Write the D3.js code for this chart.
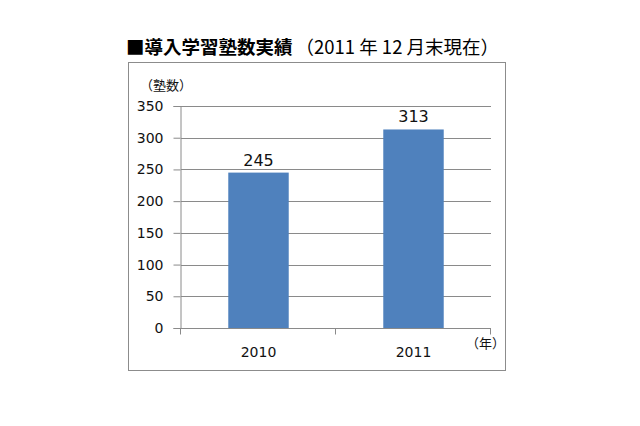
<!DOCTYPE html>
<html>
<head>
<meta charset="utf-8">
<script src="https://cdn.jsdelivr.net/npm/d3@7"></script>
<style>
  body { margin: 0; background: #fff; }
  text { font-family: "Noto Sans CJK JP", "Noto Sans", sans-serif; }
  .num { font-family: "DejaVu Sans", sans-serif; }
</style>
</head>
<body>
<div id="chart"></div>
<script>
// Introduced juku count, by year (end of December)
const years = ['2010', '2011'];
const jukuCounts = [245, 313];
const yTicks = [0, 50, 100, 150, 200, 250, 300, 350];

const width = 640, height = 426;
const plot = { left: 181, right: 491, top: 106, bottom: 328 };

const svg = d3.select('#chart').append('svg')
  .attr('width', width).attr('height', height);

// Title: bold gothic part, then plain part
const title = svg.append('text').attr('x', 126).attr('y', 54).style('font-size', '18.5px');
title.append('tspan').attr('font-weight', 'bold').text('■導入学習塾数実績');
title.append('tspan').attr('font-weight', 'normal').attr('dx', 3).text('（2011 年 12 月末現在）');

// Chart frame
svg.append('rect')
  .attr('x', 128.5).attr('y', 62.5).attr('width', 377).attr('height', 308)
  .attr('fill', 'none').attr('stroke', '#8c8c8c').attr('stroke-width', 1);

const x = d3.scaleBand().domain(years).range([plot.left, plot.right]).padding(0);
const y = d3.scaleLinear().domain([0, 350]).range([plot.bottom, plot.top]);

// Gridlines
svg.append('g').selectAll('line')
  .data(yTicks.filter(d => d > 0))
  .enter().append('line')
  .attr('x1', plot.left).attr('x2', plot.right)
  .attr('y1', d => Math.round(y(d)) + 0.5).attr('y2', d => Math.round(y(d)) + 0.5)
  .attr('stroke', '#8a8a8a');

// Bars
const barW = x.bandwidth() * 0.39;
svg.append('g').selectAll('rect')
  .data(years)
  .enter().append('rect')
  .attr('x', d => x(d) + (x.bandwidth() - barW) / 2)
  .attr('y', (d, i) => y(jukuCounts[i]))
  .attr('width', barW)
  .attr('height', (d, i) => y(0) - y(jukuCounts[i]))
  .attr('fill', '#4f81bd');

// Value labels
svg.append('g').selectAll('text')
  .data(years)
  .enter().append('text')
  .attr('class', 'num')
  .attr('x', d => x(d) + x.bandwidth() / 2)
  .attr('y', (d, i) => y(jukuCounts[i]) - 7)
  .attr('text-anchor', 'middle')
  .style('font-size', '16px')
  .attr('fill', '#111')
  .text((d, i) => jukuCounts[i]);

// Y axis
const yAxis = svg.append('g')
  .attr('transform', `translate(${plot.left - 0.5},0)`)
  .call(d3.axisLeft(y).tickValues(yTicks).tickSize(7).tickPadding(10));
yAxis.selectAll('line, path').attr('stroke', '#8a8a8a');
yAxis.selectAll('text').attr('class', 'num').style('font-size', '14px').attr('fill', '#111')
  .style('font-family', '"DejaVu Sans", sans-serif');

// X axis: ticks on category boundaries
const xAxisG = svg.append('g').attr('transform', `translate(0,${plot.bottom + 0.5})`);
xAxisG.append('line')
  .attr('x1', plot.left - 7).attr('x2', plot.right)
  .attr('stroke', '#8a8a8a');
const bounds = years.map(d => x(d)).concat([plot.right]);
xAxisG.selectAll('line.tick')
  .data(bounds)
  .enter().append('line').attr('class', 'tick')
  .attr('x1', d => Math.round(d) - 0.5).attr('x2', d => Math.round(d) - 0.5)
  .attr('y1', 0).attr('y2', 6)
  .attr('stroke', '#8a8a8a');
xAxisG.selectAll('text')
  .data(years)
  .enter().append('text')
  .attr('class', 'num')
  .attr('x', d => x(d) + x.bandwidth() / 2)
  .attr('y', 28)
  .attr('text-anchor', 'middle')
  .style('font-size', '14px')
  .attr('fill', '#111')
  .text(d => d);

// Axis unit labels
svg.append('text').attr('x', 140).attr('y', 90)
  .style('font-size', '13px').attr('fill', '#111').text('（塾数）');
svg.append('text').attr('x', 466).attr('y', 348)
  .style('font-size', '13px').attr('fill', '#111').text('（年）');
</script>
</body>
</html>
